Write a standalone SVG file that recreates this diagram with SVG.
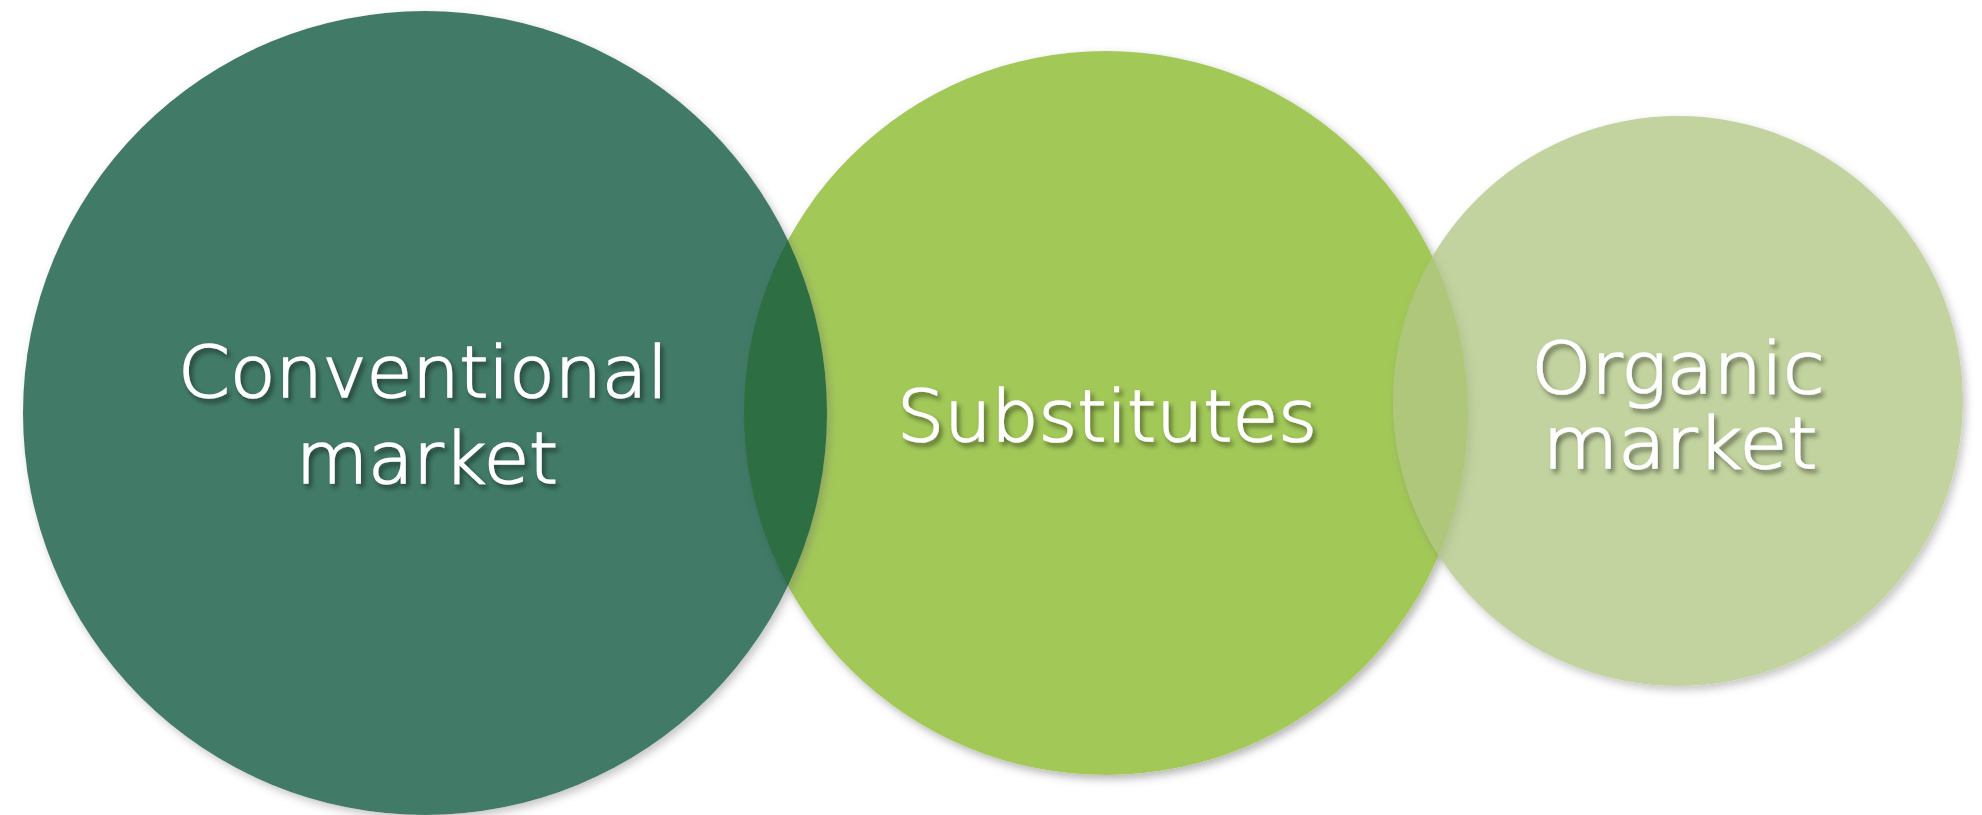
<svg xmlns="http://www.w3.org/2000/svg" width="1982" height="815" viewBox="0 0 1982 815">
  <style>
    .lbl { font-family: "DejaVu Sans", "Open Sans", "Liberation Sans", sans-serif; font-size: 71px; font-weight: 200; fill: #ffffff; stroke: #ffffff; stroke-width: 1.6px; text-anchor: middle; }
  </style>
  <defs>
    <filter id="csh" x="-10%" y="-10%" width="125%" height="125%">
      <feGaussianBlur in="SourceAlpha" stdDeviation="4"/>
      <feOffset dx="3" dy="4" result="b"/>
      <feComposite in="b" in2="SourceAlpha" operator="out" result="o"/>
      <feColorMatrix in="o" type="matrix" values="0 0 0 0 0.15  0 0 0 0 0.15  0 0 0 0 0.15  0 0 0 0.5 0" result="s"/>
      <feMerge><feMergeNode in="s"/><feMergeNode in="SourceGraphic"/></feMerge>
    </filter>
    <filter id="tsh" x="-10%" y="-20%" width="120%" height="150%">
      <feGaussianBlur in="SourceAlpha" stdDeviation="2.5"/>
      <feOffset dx="3" dy="4"/>
      <feColorMatrix type="matrix" values="0 0 0 0 0  0 0 0 0 0  0 0 0 0 0  0 0 0 0.45 0" result="s"/>
      <feMerge><feMergeNode in="s"/><feMergeNode in="SourceGraphic"/></feMerge>
    </filter>
  </defs>
  <rect width="1982" height="815" fill="#ffffff"/>
  <g id="substitutes">
    <circle cx="1106" cy="413" r="362" fill="#a2c858" filter="url(#csh)"/>
  </g>
  <g id="conventional-market">
    <circle cx="425" cy="413" r="402" fill="#0c553e" opacity="0.78" filter="url(#csh)"/>
  </g>
  <g id="organic-market">
    <circle cx="1678" cy="401" r="285" fill="#b2c785" opacity="0.78" filter="url(#csh)"/>
  </g>
  <g id="connectors"></g>
  <g id="labels" filter="url(#tsh)">
    <text class="lbl" x="423" y="397" textLength="490" lengthAdjust="spacingAndGlyphs">Conventional</text>
    <text class="lbl" x="427" y="483" textLength="262" lengthAdjust="spacingAndGlyphs">market</text>
    <text class="lbl" x="1107" y="441" textLength="420" lengthAdjust="spacingAndGlyphs">Substitutes</text>
    <text class="lbl" x="1678" y="393" textLength="293" lengthAdjust="spacingAndGlyphs">Organic</text>
    <text class="lbl" x="1680" y="468" textLength="275" lengthAdjust="spacingAndGlyphs">market</text>
  </g>
</svg>
